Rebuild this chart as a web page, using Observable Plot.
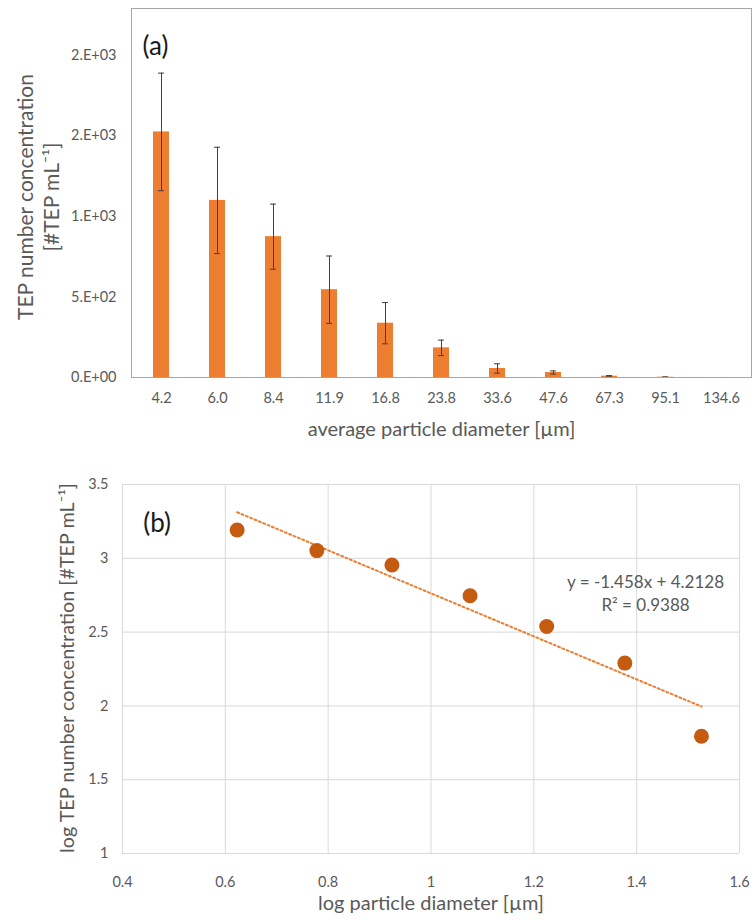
<!DOCTYPE html>
<html><head><meta charset="utf-8">
<script src="https://cdn.jsdelivr.net/npm/d3@7"></script>
<script src="https://cdn.jsdelivr.net/npm/@observablehq/plot@0.6"></script>
<style>
body{margin:0;background:#fff;}
#chart{width:756px;}
svg{display:block;}
</style></head><body><div id="chart"></div>
<script>
// Panel (a)
const diameters = ["4.2","6.0","8.4","11.9","16.8","23.8","33.6","47.6","67.3","95.1","134.6"];
const concentration = [1524, 1099, 874, 545, 337, 184, 56, 31, 8, 2, 0];
const concentrationErr = [365, 330, 202, 209, 128, 48, 29, 10, 4, 2, 0];
const yTicksA = [0, 500, 1000, 1500, 2000];
const yTickLabelsA = ["0.E+00", "5.E+02", "1.E+03", "2.E+03", "2.E+03"];

// Panel (b)
const logDiameter = [0.623, 0.778, 0.924, 1.076, 1.225, 1.377, 1.526];
const logConcentration = [3.192, 3.052, 2.955, 2.746, 2.538, 2.290, 1.794];
const xTicksB = [0.4, 0.6, 0.8, 1, 1.2, 1.4, 1.6];
const yTicksB = [1, 1.5, 2, 2.5, 3, 3.5];
const equationLines = ["y = -1.458x + 4.2128", "R² = 0.9388"];

const dataA = diameters.map((d, i) => ({d, v: concentration[i], e: concentrationErr[i]}));
const errA = dataA.filter(r => r.e > 0);
const dataB = logDiameter.map((x, i) => ({x, y: logConcentration[i]}));

const FONT = "Lato, 'Open Sans', sans-serif";
const GREY = "#595959";

const plotA = Plot.plot({
  width: 756, height: 455,
  marginLeft: 131, marginRight: 5, marginTop: 8, marginBottom: 78,
  style: {fontFamily: FONT, fontSize: "14.5px", color: GREY, background: "white", overflow: "visible"},
  x: {type: "band", domain: diameters, paddingInner: 0.708, paddingOuter: 0.354, label: null, tickSize: 0, tickPadding: 15},
  y: {domain: [0, 2290], ticks: yTicksA, tickFormat: d => yTickLabelsA[yTicksA.indexOf(d)], tickSize: 0, tickPadding: 15, label: null},
  marks: [
    Plot.barY(dataA, {x: "d", y: "v", fill: "#ED7D31"}),
    Plot.ruleX(errA, {x: "d", y1: r => r.v - r.e, y2: r => r.v + r.e, stroke: "#404040", strokeWidth: 1}),
    Plot.tickY(errA, {x: "d", y: r => r.v + r.e, stroke: "#404040", strokeWidth: 1, insetLeft: 5, insetRight: 5}),
    Plot.tickY(errA, {x: "d", y: r => Math.max(0, r.v - r.e), stroke: "#404040", strokeWidth: 1, insetLeft: 5, insetRight: 5}),
    Plot.frame({stroke: "#a6a6a6"}),
    Plot.text(["(a)"], {frameAnchor: "top-left", textAnchor: "start", lineAnchor: "middle", dx: 11, dy: 38, fontSize: 26, fill: "#1a1a1a"}),
    Plot.text(["TEP number concentration\n[#TEP mL⁻¹]"], {frameAnchor: "left", rotate: -90, textAnchor: "middle", lineAnchor: "middle", lineHeight: 1.2, dx: -93.5, dy: 4, fontSize: 21, fill: GREY}),
    Plot.text(["average particle diameter [µm]"], {frameAnchor: "bottom", textAnchor: "middle", lineAnchor: "middle", dy: 52, fontSize: 20, fill: GREY})
  ]
});

const plotB = Plot.plot({
  width: 756, height: 465,
  marginLeft: 122, marginRight: 17, marginTop: 29, marginBottom: 67,
  style: {fontFamily: FONT, fontSize: "14.5px", color: GREY, background: "white", overflow: "visible"},
  x: {domain: [0.4, 1.6], ticks: xTicksB, tickFormat: d => String(+d.toFixed(1)), tickSize: 0, tickPadding: 23, label: null},
  y: {domain: [1, 3.5], ticks: yTicksB, tickFormat: d => String(+d.toFixed(1)), tickSize: 0, tickPadding: 14, label: null},
  marks: [
    Plot.ruleX(xTicksB, {stroke: "#d9d9d9", strokeWidth: 1}),
    Plot.ruleY(yTicksB, {stroke: "#d9d9d9", strokeWidth: 1}),
    Plot.linearRegressionY(dataB, {x: "x", y: "y", ci: 0, stroke: "#ED7D31", strokeWidth: 2, strokeDasharray: "2,2.7"}),
    Plot.dot(dataB, {x: "x", y: "y", r: 7.5, fill: "#C55A11", stroke: "none"}),
    Plot.text(["(b)"], {frameAnchor: "top-left", textAnchor: "start", lineAnchor: "middle", dx: 20.7, dy: 39, fontSize: 26, fill: "#1a1a1a"}),
    Plot.text([equationLines.join("\n")], {frameAnchor: "top-right", textAnchor: "middle", lineAnchor: "middle", lineHeight: 1.35, dx: -94, dy: 107.5, fontSize: 17, fill: GREY}),
    Plot.text(["log TEP number concentration [#TEP mL⁻¹]"], {frameAnchor: "left", rotate: -90, textAnchor: "middle", lineAnchor: "middle", dx: -55.3, dy: -1, fontSize: 19.8, fill: GREY}),
    Plot.text(["log particle diameter [µm]"], {frameAnchor: "bottom", textAnchor: "middle", lineAnchor: "middle", dy: 50, fontSize: 20, fill: GREY})
  ]
});

const chart = document.getElementById("chart");
chart.append(plotA, plotB);
</script>
</body></html>
